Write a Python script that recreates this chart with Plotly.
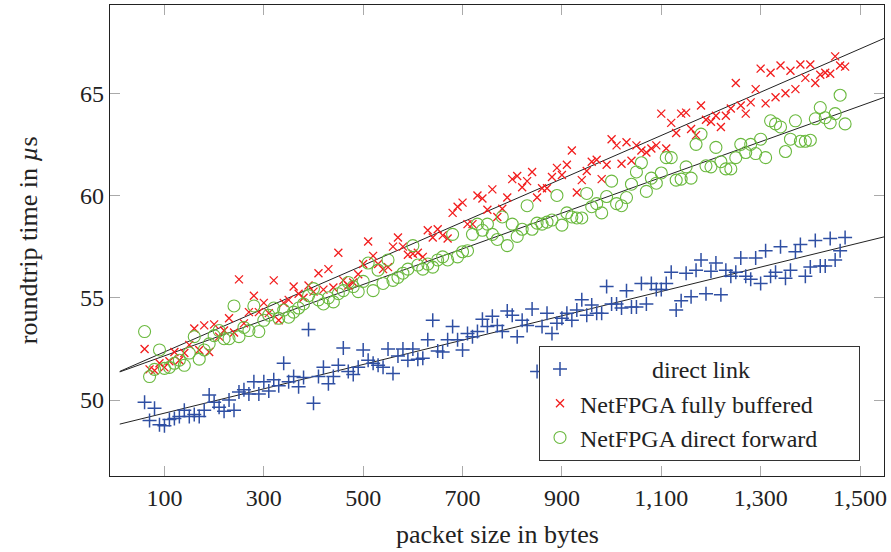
import numpy as np
import plotly.graph_objects as go

packet_size = list(range(60, 1471, 10))

direct_link = [
    49.9, 49.0, 49.6, 48.8, 48.75, 49.05, 49.1, 49.2, 49.5, 49.2,
    49.3, 49.2, 49.5, 50.25, 49.9, 49.65, 49.45, 50.0, 49.5, 50.4,
    50.5, 50.3, 50.9, 50.3, 50.9, 50.45, 51.0, 50.7, 51.8, 50.9,
    51.15, 50.65, 51.1, 53.45, 49.85, 51.15, 51.6, 50.8, 51.15, 51.7,
    52.55, 51.4, 51.25, 51.6, 52.45, 51.95, 51.8, 51.7, 51.6, 52.5,
    51.3, 52.15, 52.5, 51.95, 52.5, 52.0, 52.05, 52.95, 53.9, 52.4,
    52.35, 52.95, 53.6, 52.95, 52.45, 53.25, 53.1, 53.35, 53.95, 53.6,
    54.1, 53.65, 53.35, 54.35, 54.15, 53.1, 53.9, 53.65, 54.45, 51.4,
    53.6, 54.25, 53.25, 53.75, 54.0, 54.25, 53.9, 54.4, 54.9, 54.15,
    54.65, 54.25, 54.25, 55.55, 54.7, 54.7, 54.5, 55.35, 54.55, 54.55,
    55.7, 54.7, 55.7, 55.4, 55.4, 55.7, 56.25, 54.4, 54.85, 56.2,
    55.05, 56.35, 56.85, 55.2, 56.3, 56.7, 55.15, 56.35, 56.05, 56.25,
    56.95, 56.05, 55.9, 56.95, 55.7, 57.3, 56.05, 56.25, 57.5, 55.95,
    56.35, 57.25, 57.6, 56.05, 56.5, 57.8, 56.55, 56.55, 57.9, 56.85,
    57.3, 57.95,
]

fully_buffered = [
    52.5, 51.5, 51.45, 51.8, 51.6, 51.9, 52.35, 51.95, 52.3, 52.7,
    53.5, 52.45, 53.65, 52.35, 53.7, 53.1, 53.4, 54.0, 53.3, 55.9,
    53.75, 54.3, 55.1, 54.3, 54.75, 54.25, 55.85, 53.9, 54.75, 54.9,
    55.55, 55.2, 55.0, 55.6, 55.3, 56.2, 55.4, 56.4, 55.5, 57.2,
    55.85, 55.6, 55.75, 56.15, 56.65, 57.75, 57.05, 56.65, 56.4, 56.5,
    57.5, 57.95, 57.5, 57.1, 57.15, 57.2, 57.0, 58.3, 57.95, 58.35,
    58.05, 57.9, 59.15, 59.45, 59.65, 58.6, 58.6, 60.0, 59.85, 59.3,
    60.3, 58.95, 59.35, 59.9, 60.8, 60.95, 60.4, 60.7, 61.15, 59.9,
    60.35, 60.35, 60.9, 61.35, 61.0, 61.5, 62.2, 60.15, 60.75, 61.2,
    61.65, 61.75, 60.8, 61.5, 62.75, 62.45, 61.55, 62.6, 61.7, 62.45,
    62.2, 62.1, 62.3, 62.45, 64.0, 62.3, 63.55, 63.05, 64.0, 64.05,
    63.25, 62.95, 64.4, 63.7, 63.6, 63.9, 63.35, 63.9, 64.25, 65.5,
    64.4, 64.0, 64.55, 65.2, 66.2, 64.5, 66.0, 64.8, 66.35, 65.0,
    66.1, 65.2, 66.4, 65.75, 66.4, 65.5, 65.9, 66.0, 65.95, 66.8,
    66.35, 66.3,
]

direct_forward = [
    53.35, 51.15, 51.5, 52.45, 51.55, 51.6, 51.8, 51.95, 51.7, 52.3,
    53.1, 52.0, 52.45, 52.75, 53.15, 53.4, 53.0, 53.0, 54.6, 53.1,
    53.55, 53.4, 54.6, 53.35, 53.9, 54.15, 54.5, 54.0, 54.4, 54.05,
    54.3, 54.5, 54.7, 55.1, 55.45, 54.9, 54.7, 55.0, 54.8, 55.2,
    55.35, 55.75, 55.55, 55.3, 55.8, 56.7, 55.35, 56.35, 55.7, 56.85,
    55.85, 56.0, 56.2, 56.4, 57.55, 56.6, 56.4, 56.65, 56.5, 56.85,
    57.0, 56.85, 58.1, 57.0, 57.25, 57.3, 58.1, 58.6, 58.3, 58.6,
    58.1, 57.85, 58.95, 57.55, 58.6, 58.0, 58.35, 59.5, 58.35, 58.65,
    58.6, 58.7, 58.8, 60.0, 58.55, 59.15, 58.95, 58.9, 58.9, 60.1,
    59.45, 59.6, 59.15, 59.95, 60.7, 59.6, 59.5, 59.9, 60.55, 61.15,
    61.6, 60.2, 60.85, 60.6, 61.1, 61.85, 61.85, 60.75, 60.8, 61.4,
    60.85, 62.5, 63.0, 61.45, 61.4, 62.35, 61.65, 61.3, 61.3, 61.85,
    62.5, 62.1, 62.5, 62.05, 62.75, 61.85, 63.65, 63.5, 63.35, 62.15,
    62.75, 63.65, 62.65, 62.65, 62.7, 63.75, 64.3, 63.8, 63.55, 64.0,
    64.9, 63.5,
]

fit_domain = [10, 1560]
x_ticks = [100, 300, 500, 700, 900, 1100, 1300, 1500]
y_ticks = [50, 55, 60, 65]

FONT = "Liberation Serif"
TXT = "#222222"
BLUE = "#2f4fa3"
RED = "#f21c1c"
GREEN = "#6ab93e"

fig = go.Figure()

def fit_line(y):
    slope, intercept = np.polyfit(packet_size, y, 1)
    xs = np.array(fit_domain, dtype=float)
    return xs, intercept + slope * xs

for ys in (direct_link, fully_buffered, direct_forward):
    fx, fy = fit_line(ys)
    fig.add_trace(go.Scatter(x=fx, y=fy, mode="lines", showlegend=False,
                             line=dict(color="#222222", width=1), hoverinfo="skip"))

nb = "\u00a0"
pad = nb * 6
fig.add_trace(go.Scatter(x=packet_size, y=direct_link, mode="markers",
                         name=nb * 12 + "direct link",
                         marker=dict(symbol="cross-thin", size=10, color=BLUE,
                                     line=dict(color=BLUE, width=1.5))))
fig.add_trace(go.Scatter(x=packet_size, y=fully_buffered, mode="markers",
                         name="NetFPGA fully buffered" + pad,
                         marker=dict(symbol="x-thin", size=8, color=RED,
                                     line=dict(color=RED, width=1.3))))
fig.add_trace(go.Scatter(x=packet_size, y=direct_forward, mode="markers",
                         name="NetFPGA direct forward" + pad,
                         marker=dict(symbol="circle-open", size=12, color=GREEN,
                                     line=dict(color=GREEN, width=1.1))))

axis_common = dict(showgrid=False, zeroline=False, showline=True, linecolor="#222222",
                   linewidth=1.2, mirror="allticks", ticks="inside", ticklen=10,
                   tickcolor="#aaaaaa", tickwidth=1, automargin=False,
                   tickfont=dict(family=FONT, size=24, color=TXT))

fig.update_xaxes(range=[-9.6, 1548.3], tickvals=x_ticks, tickformat=",d", **axis_common)
fig.update_yaxes(range=[46.29, 69.31], tickvals=y_ticks, **axis_common)

fig.add_annotation(text="packet size in bytes", xref="paper", yref="paper",
                   x=0.5, y=-0.125, xanchor="center", yanchor="middle", showarrow=False,
                   font=dict(family=FONT, size=26, color=TXT))
fig.add_annotation(text="roundtrip time in <i>µ</i>s", xref="paper", yref="paper",
                   x=-0.105, y=0.5, xanchor="center", yanchor="middle", showarrow=False,
                   textangle=-90, font=dict(family=FONT, size=26, color=TXT))

fig.update_layout(
    width=891, height=552,
    margin=dict(l=109.5, r=7, t=4.7, b=76),
    plot_bgcolor="white", paper_bgcolor="white",
    font=dict(family=FONT, color=TXT),
    legend=dict(x=0.969, xanchor="right", y=0.032, yanchor="bottom",
                bgcolor="white", bordercolor="#333333", borderwidth=1,
                font=dict(family=FONT, size=24, color=TXT),
                itemwidth=30, tracegroupgap=0),
    showlegend=True,
)

fig.write_html("out.html", config={"displayModeBar": False},
               post_script="document.body.style.margin='0';document.body.style.padding='0';")
